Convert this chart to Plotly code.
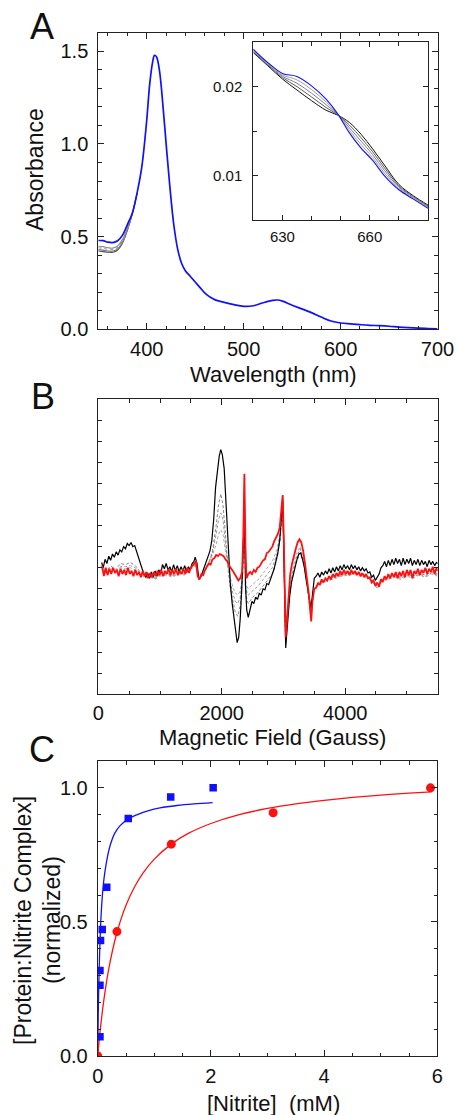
import plotly.graph_objects as go

W, H = 456, 1115
FONT = "Liberation Sans, Arial, sans-serif"

# ---------------- Panel A data ----------------
wl_main = [350, 355, 360, 365, 370, 375, 380, 385, 390, 395, 400, 403, 406, 408, 410, 413, 416, 420,
           424, 428, 432, 436, 440, 445, 450, 455, 460, 465, 470, 480, 490, 500, 510, 520, 530, 535,
           540, 550, 560, 570, 580, 590, 600, 610, 620, 630, 640, 650, 660, 670, 680, 690, 700]
abs_blue = [0.479, 0.478, 0.470, 0.468, 0.478, 0.508, 0.565, 0.625, 0.735, 0.88, 1.13, 1.32, 1.44, 1.478,
            1.47, 1.40, 1.25, 1.00, 0.76, 0.56, 0.43, 0.355, 0.315, 0.285, 0.255, 0.225, 0.195, 0.175,
            0.16, 0.145, 0.133, 0.124, 0.127, 0.143, 0.156, 0.158, 0.152, 0.130, 0.110, 0.090, 0.066,
            0.045, 0.034, 0.029, 0.025, 0.0215, 0.0195, 0.0165, 0.012, 0.0085, 0.006, 0.004, 0.002]
wl_low = [350, 355, 360, 365, 370, 375, 380, 385, 390]
abs_black_low = [0.422, 0.419, 0.416, 0.416, 0.428, 0.466, 0.533, 0.620, 0.735]
abs_gray1_low = [0.430, 0.427, 0.422, 0.422, 0.434, 0.471, 0.538, 0.622, 0.735]
abs_gray2_low = [0.440, 0.437, 0.431, 0.430, 0.442, 0.478, 0.543, 0.623, 0.735]
abs_gray3_low = [0.448, 0.446, 0.440, 0.438, 0.450, 0.485, 0.548, 0.624, 0.735]

wl_inset = [620, 625, 630, 635, 640, 645, 649, 653, 657, 661, 665, 670, 675, 680]
ins_black = [0.02384, 0.02235, 0.02087, 0.01963, 0.01843, 0.01735, 0.01680, 0.01598, 0.01465, 0.01300,
             0.01120, 0.00900, 0.00772, 0.00668]
ins_gray1 = [0.02394, 0.02244, 0.02103, 0.02001, 0.01885, 0.01766, 0.01684, 0.01569, 0.01426, 0.01268,
             0.01090, 0.00885, 0.00763, 0.00659]
ins_gray2 = [0.02403, 0.02254, 0.02119, 0.02039, 0.01927, 0.01798, 0.01688, 0.01539, 0.01388, 0.01235,
             0.01060, 0.00870, 0.00754, 0.00650]
ins_gray3 = [0.02413, 0.02263, 0.02134, 0.02077, 0.01968, 0.01829, 0.01691, 0.01510, 0.01349, 0.01203,
             0.01030, 0.00855, 0.00744, 0.00640]
ins_blue = [0.02422, 0.02272, 0.02150, 0.02115, 0.02010, 0.01860, 0.01695, 0.01480, 0.01310, 0.01170,
            0.01000, 0.00840, 0.00735, 0.00631]

# ---------------- Panel B data ----------------
field_black = [54, 80, 110, 140, 170, 200, 230, 260, 290, 320, 350, 380, 410, 440, 470, 500, 530, 560, 590,
               620, 650, 680, 710, 740, 770, 800, 830, 860, 890, 920, 950, 980, 1010, 1040, 1070, 1100,
               1130, 1160, 1190, 1220, 1250, 1280, 1310, 1340, 1370, 1400, 1430, 1460, 1490, 1520, 1550,
               1570, 1600, 1630, 1660, 1690, 1720, 1750, 1780, 1810, 1840, 1870, 1900, 1930, 1960, 1985,
               2010, 2040, 2065, 2090, 2115, 2140, 2170, 2200, 2225, 2250, 2275, 2300, 2325, 2345, 2367,
               2385, 2405, 2430, 2460, 2490, 2520, 2550, 2580, 2610, 2640, 2670, 2700, 2730, 2760, 2790,
               2820, 2850, 2880, 2910, 2940, 2965, 2988, 3005, 3020, 3037, 3055, 3075, 3100, 3130, 3160,
               3190, 3220, 3250, 3280, 3310, 3340, 3370, 3400, 3425, 3445, 3470, 3500, 3530, 3560, 3590,
               3620, 3650, 3680, 3710, 3740, 3770, 3800, 3830, 3860, 3890, 3920, 3950, 3980, 4010, 4040,
               4070, 4100, 4130, 4160, 4190, 4220, 4250, 4280, 4310, 4340, 4370, 4400, 4430, 4460, 4490,
               4520, 4550, 4580, 4610, 4640, 4670, 4700, 4730, 4760, 4790, 4820, 4850, 4880, 4910, 4940,
               4970, 5000, 5030, 5060, 5090, 5120, 5150, 5180, 5210, 5240, 5270, 5300, 5330, 5360, 5390,
               5420, 5450, 5480, 5500]
epr_black = [-0.75, -1.0, -0.6, -0.8, -0.45, -0.65, -0.35, -0.5, -0.25, -0.4, -0.15, -0.25, 0.0, -0.1, 0.15,
             0.05, 0.2, 0.0, 0.05, -0.25, -0.5, -0.75, -1.05, -1.3, -1.45, -1.25, -1.5, -1.2, -1.45, -1.15,
             -1.4, -1.1, -1.3, -0.85, -1.05, -0.8, -1.1, -0.95, -1.2, -0.85, -1.15, -0.9, -1.2, -0.95, -1.15,
             -0.9, -1.2, -0.95, -1.1, -0.8, -0.7, -0.5, -0.8, -1.55, -1.45, -1.2, -0.95, -0.8, -0.5, -0.2,
             0.3, 1.3, 2.8, 3.7, 4.3, 4.6, 4.35, 3.7, 2.4, 0.7, -0.7, -1.8, -2.7, -3.5, -4.2, -4.55, -4.3,
             -3.4, -2.0, -0.6, 1.4, -1.8, -3.0, -3.35, -2.9, -2.6, -2.7, -2.4, -2.5, -2.2, -2.3, -2.0, -2.05,
             -1.75, -1.8, -1.5, -1.3, -1.05, -0.7, -0.3, 0.3, 1.2, 2.2, 0.0, -2.6, -4.8, -4.1, -3.3, -2.4,
             -1.7, -1.3, -0.9, -0.6, -0.35, -0.3, -0.6, -1.0, -1.6, -2.2, -2.7, -2.9, -2.3, -1.5, -1.4,
             -1.25, -1.45, -1.2, -1.35, -1.15, -1.3, -1.05, -1.25, -1.0, -1.2, -0.95, -1.15, -0.9, -1.1,
             -0.85, -1.05, -0.9, -1.1, -0.85, -1.05, -0.9, -1.1, -0.95, -1.15, -1.0, -1.15, -1.05, -1.25,
             -1.2, -1.45, -1.35, -1.6, -1.45, -1.3, -1.0, -0.9, -0.7, -0.95, -0.65, -0.9, -0.6, -0.85,
             -0.55, -0.8, -0.6, -0.9, -0.55, -0.85, -0.6, -0.8, -0.55, -0.9, -0.65, -0.85, -0.6, -0.9,
             -0.65, -0.85, -0.7, -0.95, -0.65, -0.85, -0.7, -0.9, -0.75, -0.8]

field_red = [60, 90, 120, 150, 180, 210, 240, 270, 300, 330, 360, 390, 420, 450, 480, 510, 540, 570, 600,
             630, 660, 690, 720, 750, 780, 810, 840, 870, 900, 930, 960, 990, 1020, 1050, 1080, 1110, 1140,
             1170, 1200, 1230, 1260, 1290, 1320, 1350, 1380, 1410, 1440, 1470, 1500, 1530, 1560, 1585,
             1610, 1640, 1670, 1700, 1730, 1760, 1790, 1820, 1850, 1880, 1910, 1940, 1970, 2000, 2030,
             2060, 2090, 2120, 2150, 2180, 2210, 2240, 2270, 2300, 2330, 2350, 2367, 2385, 2400, 2430,
             2460, 2490, 2520, 2550, 2580, 2610, 2640, 2670, 2700, 2730, 2760, 2790, 2820, 2850, 2880,
             2910, 2940, 2965, 2988, 3005, 3020, 3037, 3055, 3080, 3110, 3140, 3170, 3200, 3230, 3260,
             3290, 3320, 3350, 3380, 3410, 3440, 3450, 3470, 3500, 3530, 3560, 3590, 3620, 3650, 3680,
             3710, 3740, 3770, 3800, 3830, 3860, 3890, 3920, 3950, 3980, 4010, 4040, 4070, 4100, 4130,
             4160, 4190, 4220, 4250, 4280, 4310, 4340, 4370, 4400, 4430, 4460, 4490, 4520, 4550, 4580,
             4610, 4640, 4670, 4700, 4730, 4760, 4790, 4820, 4850, 4880, 4910, 4940, 4970, 5000, 5030,
             5060, 5090, 5120, 5150, 5180, 5210, 5240, 5270, 5300, 5330, 5360, 5390, 5420, 5450, 5480, 5500]
epr_red = [-0.9, -1.4, -1.0, -1.35, -1.05, -1.3, -1.0, -1.25, -1.1, -1.4, -1.05, -1.3, -1.1, -1.35, -1.0,
           -1.3, -1.15, -1.4, -1.1, -1.35, -1.2, -1.45, -1.15, -1.4, -1.2, -1.5, -1.25, -1.45, -1.2, -1.4,
           -1.15, -1.35, -1.1, -1.4, -1.15, -1.3, -1.05, -1.35, -1.1, -1.3, -1.05, -1.35, -1.15, -1.3, -1.05,
           -1.3, -1.0, -1.25, -1.0, -0.9, -0.75, -0.7, -1.4, -1.55, -1.3, -1.35, -1.1, -0.95, -0.8, -0.85,
           -0.6, -0.55, -0.4, -0.45, -0.35, -0.4, -0.45, -0.6, -0.7, -0.9, -1.0, -1.15, -1.3, -1.45, -1.6,
           -1.5, -1.2, 0.5, 3.45, 0.0, -1.5, -1.3, -1.2, -1.3, -1.1, -1.2, -1.0, -0.95, -0.8, -0.65, -0.6,
           -0.3, -0.25, -0.1, 0.0, 0.25, 0.45, 0.6, 0.9, 1.6, 2.45, 0.5, -2.0, -4.3, -3.6, -2.4, -1.3, -0.8,
           -0.4, -0.1, 0.2, 0.35, 0.2, -0.2, -0.8, -1.4, -2.2, -3.2, -3.55, -2.6, -2.0, -1.95, -1.75, -1.8,
           -1.55, -1.7, -1.5, -1.6, -1.4, -1.55, -1.3, -1.45, -1.25, -1.4, -1.15, -1.35, -1.1, -1.3, -1.15,
           -1.35, -1.1, -1.3, -1.15, -1.35, -1.2, -1.4, -1.25, -1.45, -1.3, -1.5, -1.45, -1.7, -1.6, -1.85,
           -1.7, -1.9, -1.55, -1.65, -1.4, -1.55, -1.3, -1.5, -1.25, -1.45, -1.2, -1.5, -1.2, -1.4, -1.15,
           -1.45, -1.1, -1.35, -1.1, -1.5, -1.15, -1.3, -1.05, -1.35, -1.1, -1.25, -1.0, -1.3, -1.05, -1.2,
           -0.95, -1.3, -1.0, -1.15]

field_gray = [54, 120, 200, 280, 360, 440, 520, 600, 680, 760, 840, 920, 1000, 1100, 1200, 1300, 1400, 1500,
              1570, 1630, 1700, 1780, 1850, 1910, 1950, 1985, 2020, 2060, 2100, 2140, 2180, 2220, 2260,
              2300, 2340, 2367, 2390, 2430, 2500, 2580, 2660, 2740, 2820, 2900, 2950, 2988, 3010, 3037,
              3065, 3100, 3150, 3200, 3270, 3330, 3390, 3445, 3490, 3560, 3650, 3750, 3850, 3950, 4050,
              4150, 4250, 4350, 4450, 4520, 4600, 4700, 4800, 4900, 5000, 5100, 5200, 5300, 5400, 5500]
epr_gray1 = [-0.95, -1.2, -0.9, -1.1, -0.8, -0.85, -0.75, -0.9, -1.2, -1.45,
             -1.35, -1.5, -1.3, -1.25, -1.35, -1.2, -1.3, -1.0, -0.8, -1.5,
             -1.3, -0.9, -0.2, 1.0, 2.0, 2.5, 2.0, 0.6, -1.0, -2.0,
             -2.6, -3.1, -3.3, -2.8, -1.3, 2.2, -2.3, -2.7, -2.4, -2.2,
             -1.9, -1.6, -1.3, -0.5, 0.4, 2.2, -0.5, -4.6, -3.4, -2.3,
             -1.3, -0.8, -0.3, -0.8, -1.9, -3.2, -2.1, -1.7, -1.6, -1.5,
             -1.4, -1.3, -1.25, -1.2, -1.3, -1.35, -1.6, -1.9, -1.55, -1.45,
             -1.35, -1.45, -1.3, -1.4, -1.25, -1.35, -1.2, -1.3]
epr_gray2 = [-1.0, -1.25, -1.0, -1.15, -0.95, -0.95, -0.9, -1.0, -1.25, -1.45,
             -1.4, -1.5, -1.35, -1.3, -1.4, -1.25, -1.3, -1.05, -0.85, -1.5,
             -1.3, -0.85, -0.3, 0.6, 1.3, 1.6, 1.3, 0.2, -0.9, -1.7,
             -2.2, -2.6, -2.7, -2.4, -1.3, 2.6, -2.0, -2.3, -2.1, -1.9,
             -1.6, -1.3, -1.0, -0.3, 0.6, 2.3, -0.5, -4.5, -3.3, -2.2,
             -1.2, -0.6, -0.1, -0.7, -1.9, -3.3, -2.1, -1.75, -1.65, -1.55,
             -1.45, -1.35, -1.3, -1.25, -1.35, -1.4, -1.65, -1.95, -1.6, -1.5,
             -1.4, -1.5, -1.35, -1.45, -1.3, -1.4, -1.25, -1.35]
epr_gray3 = [-1.05, -1.3, -1.05, -1.2, -1.0, -1.05, -1.0, -1.1, -1.3, -1.5,
             -1.45, -1.55, -1.4, -1.35, -1.45, -1.3, -1.35, -1.1, -0.9, -1.55,
             -1.3, -0.8, -0.4, 0.1, 0.6, 0.8, 0.6, -0.2, -0.9, -1.5,
             -1.9, -2.2, -2.3, -2.1, -1.3, 2.9, -1.8, -2.0, -1.8, -1.6,
             -1.3, -1.0, -0.7, -0.1, 0.8, 2.4, -0.4, -4.4, -3.2, -2.1,
             -1.1, -0.4, 0.0, -0.6, -1.9, -3.4, -2.1, -1.8, -1.7, -1.6,
             -1.5, -1.4, -1.35, -1.3, -1.4, -1.45, -1.7, -2.0, -1.65, -1.55,
             -1.45, -1.55, -1.4, -1.5, -1.35, -1.45, -1.3, -1.4]

# ---------------- Panel C data ----------------
nitrite_blue = [0.04, 0.04, 0.04, 0.05, 0.08, 0.16, 0.54, 1.29, 2.04]
complex_blue = [0.072, 0.264, 0.319, 0.431, 0.472, 0.629, 0.886, 0.966, 1.0]
nitrite_red = [0.0, 0.34, 1.30, 3.10, 5.88]
complex_red = [0.0, 0.464, 0.79, 0.907, 1.0]
fit_blue_x = [0, 0.01, 0.02, 0.035, 0.05, 0.07, 0.1, 0.13, 0.17, 0.22, 0.3, 0.4, 0.55, 0.7, 0.9, 1.1, 1.4,
              1.7, 2.03]
fit_blue_y = [0, 0.16, 0.27, 0.39, 0.48, 0.56, 0.64, 0.69, 0.74, 0.785, 0.83, 0.86, 0.885, 0.90, 0.915,
              0.925, 0.934, 0.94, 0.945]
fit_red_x = [0, 0.05, 0.1, 0.15, 0.2, 0.3, 0.4, 0.5, 0.65, 0.8, 1.0, 1.3, 1.6, 2.0, 2.5, 3.0, 3.5, 4.0,
             4.5, 5.0, 5.5, 5.9]
fit_red_y = [0, 0.107, 0.195, 0.268, 0.33, 0.428, 0.503, 0.562, 0.63, 0.682, 0.734, 0.79, 0.83, 0.867,
             0.90, 0.923, 0.94, 0.953, 0.964, 0.973, 0.98, 0.985]

BLUE = "#1010ff"
RED = "#ff1010"

fig = go.Figure()

# Panel A main
for y, col, dash in [(abs_black_low, "#505050", "solid"), (abs_gray1_low, "#7a7a7a", "solid"),
                     (abs_gray2_low, "#9a9a9a", "dot"), (abs_gray3_low, "#8a8a8a", "solid")]:
    fig.add_trace(go.Scatter(x=wl_low, y=y, mode="lines", line=dict(color=col, width=1.1, dash=dash,
                             shape="spline"), xaxis="x", yaxis="y"))
fig.add_trace(go.Scatter(x=wl_main, y=abs_blue, mode="lines", line=dict(color=BLUE, width=1.7, shape="spline"),
                         xaxis="x", yaxis="y"))
# Inset
for y, col in [(ins_black, "#111111"), (ins_gray1, "#5a5a5a"), (ins_gray2, "#808080"), (ins_gray3, "#a0a0a0")]:
    fig.add_trace(go.Scatter(x=wl_inset, y=y, mode="lines", line=dict(color=col, width=1.0, shape="spline"),
                             xaxis="x2", yaxis="y2"))
fig.add_trace(go.Scatter(x=wl_inset, y=ins_blue, mode="lines", line=dict(color=BLUE, width=1.1, shape="spline"),
                         xaxis="x2", yaxis="y2"))

# Panel B
for y, col in [(epr_gray3, "#a8a8a8"), (epr_gray2, "#999999"), (epr_gray1, "#888888")]:
    fig.add_trace(go.Scatter(x=field_gray, y=y, mode="lines", line=dict(color=col, width=1.0, dash="3px,2px"),
                             xaxis="x3", yaxis="y3"))
fig.add_trace(go.Scatter(x=field_black, y=epr_black, mode="lines", line=dict(color="#000000", width=1.2),
                         xaxis="x3", yaxis="y3"))
fig.add_trace(go.Scatter(x=field_red, y=epr_red, mode="lines", line=dict(color=RED, width=1.8),
                         xaxis="x3", yaxis="y3"))

# Panel C
fig.add_trace(go.Scatter(x=fit_blue_x, y=fit_blue_y, mode="lines", line=dict(color=BLUE, width=1.3, shape="spline"),
                         xaxis="x4", yaxis="y4"))
fig.add_trace(go.Scatter(x=fit_red_x, y=fit_red_y, mode="lines", line=dict(color=RED, width=1.3, shape="spline"),
                         xaxis="x4", yaxis="y4"))
fig.add_trace(go.Scatter(x=nitrite_blue, y=complex_blue, mode="markers",
                         marker=dict(symbol="square", size=7.5, color=BLUE), xaxis="x4", yaxis="y4"))
fig.add_trace(go.Scatter(x=nitrite_red, y=complex_red, mode="markers",
                         marker=dict(symbol="circle", size=9, color=RED), xaxis="x4", yaxis="y4"))


def px_x(p):
    return p / W


def px_y(p):
    return 1 - p / H


def axis(dom, rng, dtick, tick0, minor, labels=True, size=20, fmt=None, standoff=4, ticklen=6, anchor=None,
         minorlen=3.5):
    d = dict(domain=dom, range=rng, dtick=dtick, tick0=tick0, showline=True, linecolor="#222", linewidth=1,
             mirror="ticks", ticks="inside", ticklen=ticklen, tickwidth=1, tickcolor="#222", showgrid=False,
             zeroline=False, showticklabels=labels, ticklabelstandoff=standoff, automargin=False,
             tickfont=dict(family=FONT, size=size, color="#111"),
             minor=dict(dtick=minor, tick0=tick0, ticks="inside", ticklen=minorlen, tickwidth=1,
                        tickcolor="#222", showgrid=False))
    if fmt:
        d["tickformat"] = fmt
    if anchor:
        d["anchor"] = anchor
    return d


fig.update_layout(
    width=W, height=H, margin=dict(l=0, r=0, t=0, b=0, pad=0, autoexpand=False), autosize=False,
    paper_bgcolor="white", plot_bgcolor="white", showlegend=False,
    xaxis=axis([px_x(98.3), px_x(437.5)], [350, 700], 100, 0, 20, fmt="d", standoff=2, anchor="y"),
    yaxis=axis([px_y(329.3), px_y(32.7)], [0, 1.6], 0.5, 0, 0.1, fmt=".1f", standoff=5, anchor="x"),
    xaxis2=axis([px_x(253.3), px_x(428)], [620, 680], 30, 0, 10, size=15, fmt="d", standoff=3, ticklen=5,
                anchor="y2", minorlen=4),
    yaxis2=axis([px_y(220), px_y(42.3)], [0.005, 0.025], 0.01, 0, 0.005, size=15, fmt=".2f", standoff=7,
                ticklen=5, anchor="x2", minorlen=4),
    xaxis3=axis([px_x(98.3), px_x(437.7)], [0, 5500], 2000, 0, 500, fmt="d", standoff=1, anchor="y3"),
    yaxis3=axis([px_y(694.3), px_y(399)], [-7, 7], 1, 0, 1, labels=False, ticklen=4, anchor="x3"),
    xaxis4=axis([px_x(97.7), px_x(437.3)], [0, 6], 2, 0, 0.5, fmt="d", standoff=2, anchor="y4"),
    yaxis4=axis([px_y(1056), px_y(761)], [0, 1.1], 0.5, 0, 0.1, fmt=".1f", standoff=5, anchor="x4"),
)


def label(text, x, y, size=23, angle=0):
    fig.add_annotation(text=text, x=px_x(x), y=px_y(y), xref="paper", yref="paper", showarrow=False,
                       xanchor="center", yanchor="middle", textangle=angle,
                       font=dict(family=FONT, size=size, color="#111"))


label("A", 42, 26, size=36)
label("B", 42.5, 396, size=36)
label("C", 41.5, 749, size=36)
label("Absorbance", 35, 170, angle=-90)
label("Wavelength (nm)", 273.5, 374, size=22)
label("Magnetic Field (Gauss)", 272.5, 737, size=22)
label("[Protein:Nitrite Complex]", 23, 921, angle=-90)
label("(normalized)", 52, 920, angle=-90)
label("[Nitrite]\u00a0 (mM)", 273, 1103, size=22)

fig.write_html("out.html", config={"displayModeBar": False},
               post_script="document.body.style.margin='0px';document.body.style.overflow='hidden';")
